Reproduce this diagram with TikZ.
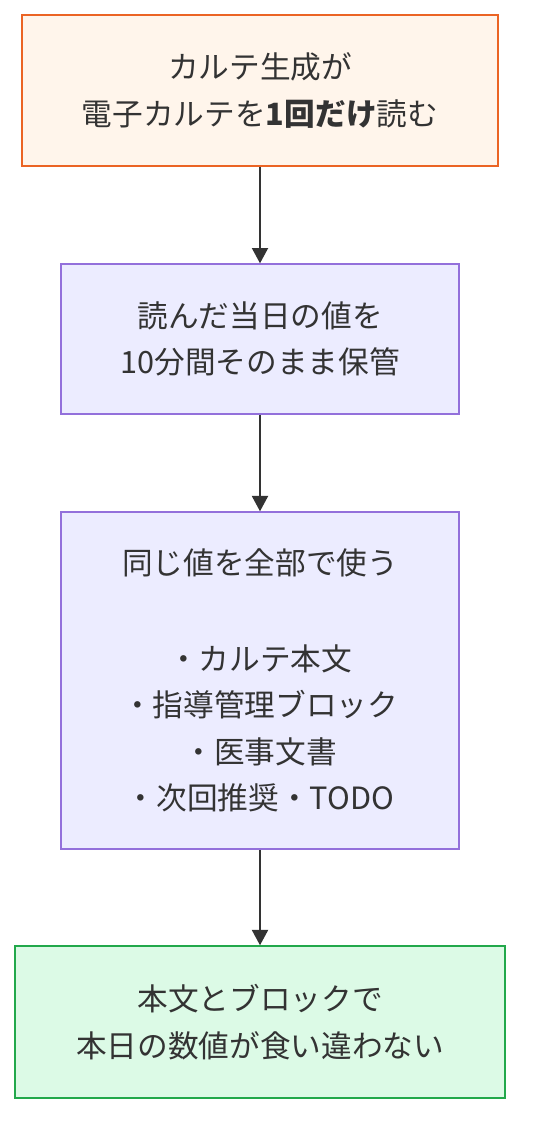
\documentclass[tikz,border=0pt]{standalone}
\usepackage{fontspec}
\setmainfont{Noto Sans CJK JP}
\usepackage{tikz}
\usetikzlibrary{shapes,arrows.meta}
\usetikzlibrary{positioning}
\definecolor{txtgray}{HTML}{333333}
\definecolor{startline}{HTML}{EB6424}
\definecolor{startfill}{HTML}{FFF5EB}
\definecolor{midline}{HTML}{9370DB}
\definecolor{midfill}{HTML}{ECECFF}
\definecolor{endline}{HTML}{22A84B}
\definecolor{endfill}{HTML}{DCFAE6}
\tikzstyle{stepbox} = [draw, rectangle, line width=1.1pt, align=center,
    text=txtgray, inner sep=0pt, font=\fontsize{23pt}{34.8pt}\selectfont]
\tikzstyle{startbox} = [stepbox, draw=startline, fill=startfill,
    minimum width=357pt, minimum height=113.25pt]
\tikzstyle{midbox} = [stepbox, draw=midline, fill=midfill,
    minimum width=298.5pt, minimum height=112.5pt]
\tikzstyle{endbox} = [stepbox, draw=endline, fill=endfill,
    minimum width=367.5pt, minimum height=114pt]
\tikzstyle{flow} = [-{Triangle[length=11.5pt,width=12pt]}, txtgray, line width=1.5pt]

\begin{document}
\begin{tikzpicture}[node distance = 186pt, auto]
  \useasboundingbox (0,0) rectangle (402pt,-861pt);
  \node [startbox] at (195pt,-67.9pt)
  (readonce) {カルテ生成が\\電子カルテを\textbf{1回だけ}読む};
  \node [midbox, below of=readonce, node distance = 186.4pt] (keepval) {読んだ当日の値を\\10分間そのまま保管};
  \node [midbox, below of=keepval, node distance = 256.1pt, minimum height=252.75pt]
  (useall) {同じ値を全部で使う\\[37pt]・カルテ本文\\・指導管理ブロック\\・医事文書\\・次回推奨・TODO};
  \node [endbox, below of=useall, node distance = 256.1pt] (nodiff) {本文とブロックで\\本日の数値が食い違わない};
  \draw [flow] (readonce) -- (keepval);
  \draw [flow] (keepval) -- (useall);
  \draw [flow] (useall) -- (nodiff);
\end{tikzpicture}
\end{document}
